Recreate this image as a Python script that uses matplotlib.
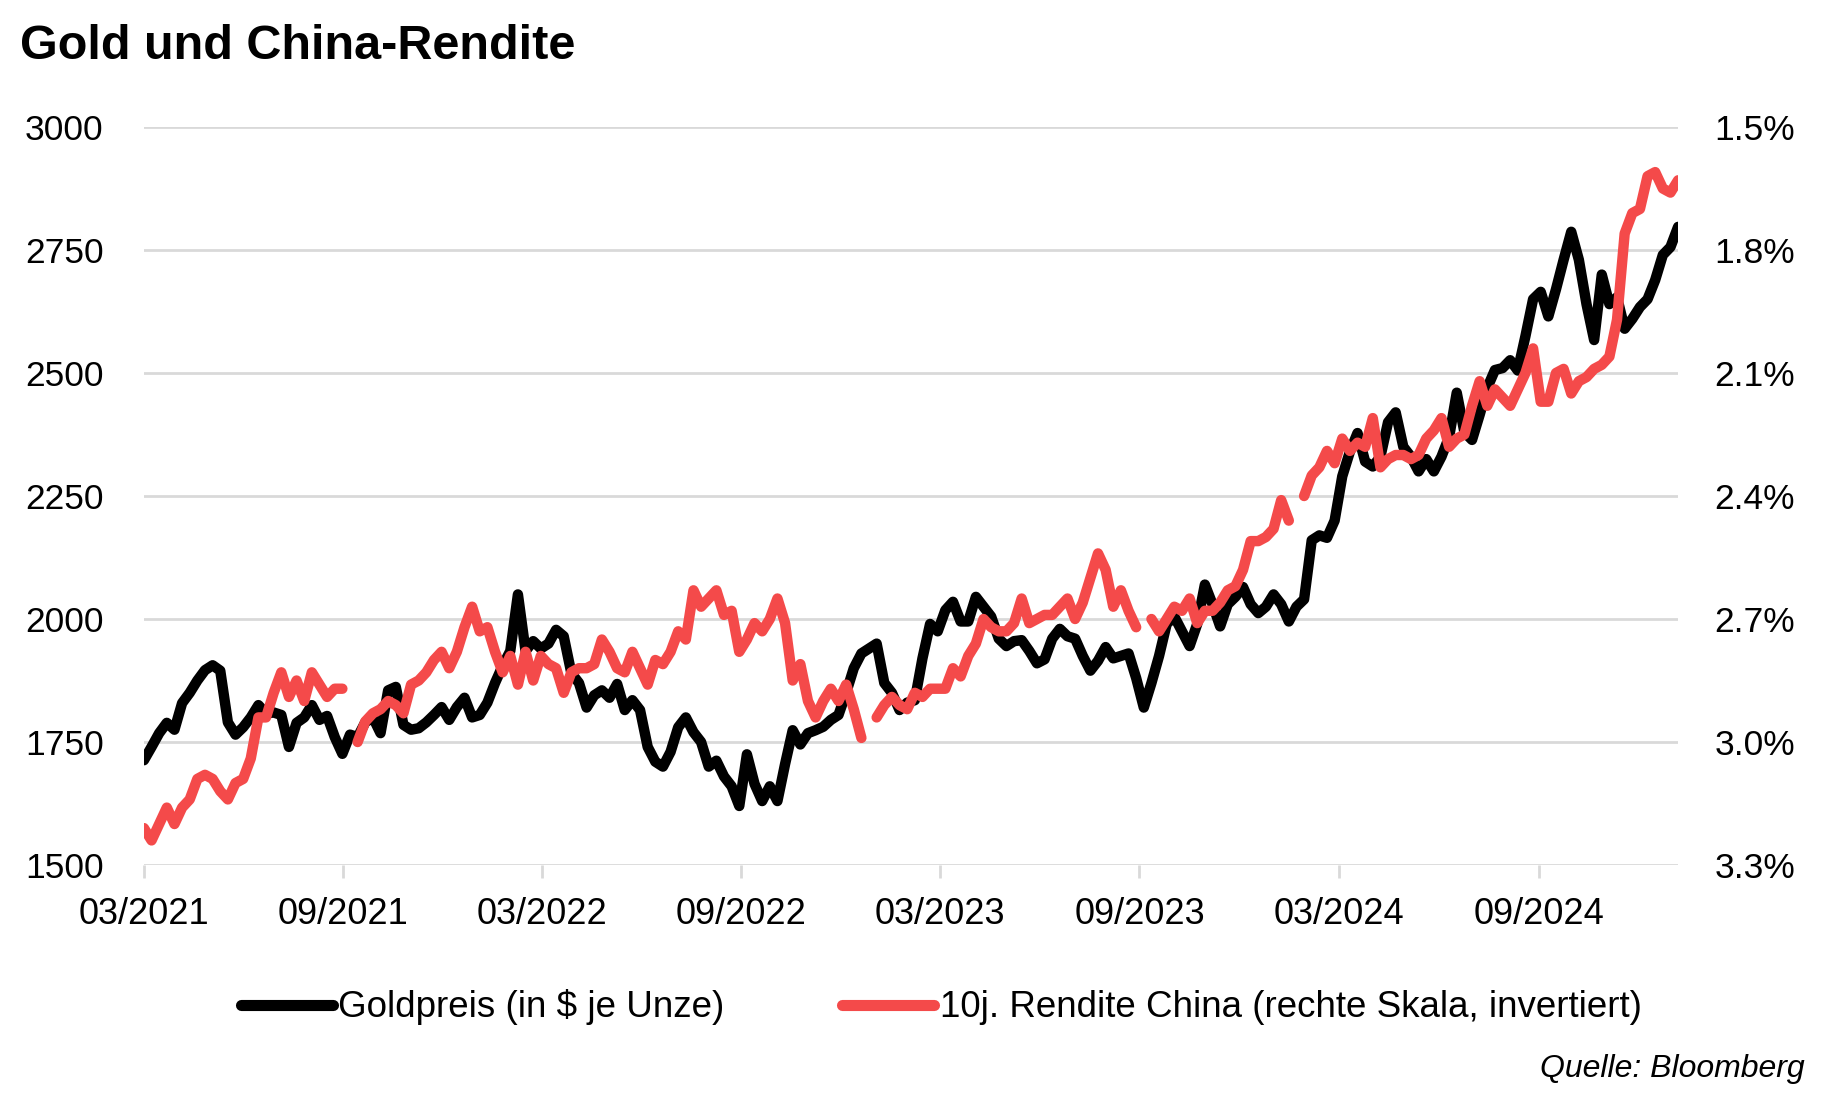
import numpy as np
import pandas as pd
import matplotlib
matplotlib.use("Agg")
import matplotlib.pyplot as plt
import matplotlib.dates as mdates
from matplotlib.ticker import FixedLocator, FuncFormatter

plt.rcParams['font.family'] = ['Liberation Sans', 'DejaVu Sans']

# weekly closes (start 31.03.2021)
gold = [
    1713, 1740, 1768, 1789, 1775, 1829, 1850, 1875, 1896, 1906,
    1895, 1790, 1765, 1780, 1800, 1825, 1808, 1810, 1805, 1740,
    1789, 1800, 1825, 1795, 1803, 1760, 1726, 1765, 1760, 1790,
    1800, 1768, 1855, 1862, 1785, 1775, 1778, 1790, 1805, 1821,
    1795, 1821, 1840, 1800, 1805, 1830, 1870, 1905, 1935, 2050,
    1935, 1955, 1940, 1950, 1978, 1965, 1890, 1870, 1820, 1845,
    1855, 1840, 1868, 1815, 1835, 1815, 1740, 1710, 1700, 1730,
    1780, 1800, 1770, 1750, 1700, 1712, 1680, 1660, 1620, 1725,
    1665, 1630, 1660, 1630, 1705, 1774, 1745, 1768, 1774, 1781,
    1795, 1805, 1850, 1900, 1930, 1940, 1950, 1870, 1850, 1815,
    1830, 1835, 1920, 1990, 1975, 2018, 2035, 1995, 1995, 2045,
    2025, 2005, 1960, 1945, 1955, 1957, 1935, 1910, 1918, 1960,
    1980, 1965, 1960, 1925, 1895, 1915, 1943, 1920, 1925, 1930,
    1880, 1820, 1870, 1925, 1990, 2005, 1975, 1945, 1990, 2070,
    2030, 1985, 2030, 2045, 2065, 2030, 2012, 2025, 2050, 2030,
    1995, 2025, 2040, 2160, 2170, 2165, 2200, 2290, 2340, 2378,
    2320, 2310, 2330, 2400, 2420, 2350, 2330, 2300, 2325, 2300,
    2330, 2370, 2460, 2380, 2364, 2415, 2470, 2506, 2510, 2526,
    2505, 2575, 2650, 2665, 2615, 2670, 2730, 2787, 2730, 2640,
    2567, 2700, 2640, 2654, 2590, 2610, 2634, 2650, 2689, 2740,
    2756, 2797,
]

yield_cn = [
    3.21, 3.24, 3.20, 3.16, 3.20, 3.16, 3.14, 3.09, 3.08, 3.09,
    3.12, 3.14, 3.10, 3.09, 3.04, 2.94, 2.94, 2.88, 2.83, 2.89,
    2.85, 2.90, 2.83, 2.86, 2.89, 2.87, 2.87, np.nan, 3.00, 2.95,
    2.93, 2.92, 2.90, 2.91, 2.93, 2.86, 2.85, 2.83, 2.80, 2.78,
    2.82, 2.78, 2.72, 2.67, 2.73, 2.72, 2.78, 2.83, 2.79, 2.86,
    2.78, 2.85, 2.79, 2.81, 2.82, 2.88, 2.83, 2.82, 2.82, 2.81,
    2.75, 2.78, 2.82, 2.83, 2.78, 2.82, 2.86, 2.80, 2.81, 2.78,
    2.73, 2.75, 2.63, 2.67, 2.65, 2.63, 2.69, 2.68, 2.78, 2.75,
    2.71, 2.73, 2.70, 2.65, 2.71, 2.85, 2.81, 2.90, 2.94, 2.90,
    2.87, 2.90, 2.86, 2.92, 2.99, np.nan, 2.94, 2.91, 2.89, 2.91,
    2.92, 2.88, 2.89, 2.87, 2.87, 2.87, 2.82, 2.84, 2.79, 2.76,
    2.70, 2.72, 2.73, 2.73, 2.71, 2.65, 2.71, 2.70, 2.69, 2.69,
    2.67, 2.65, 2.70, 2.66, 2.60, 2.54, 2.58, 2.67, 2.63, 2.68,
    2.72, np.nan, 2.70, 2.73, 2.70, 2.67, 2.68, 2.65, 2.71, 2.68,
    2.68, 2.66, 2.63, 2.62, 2.58, 2.51, 2.51, 2.50, 2.48, 2.41,
    2.46, np.nan, 2.40, 2.35, 2.33, 2.29, 2.32, 2.26, 2.29, 2.27,
    2.28, 2.21, 2.33, 2.31, 2.30, 2.30, 2.31, 2.30, 2.26, 2.24,
    2.21, 2.28, 2.26, 2.25, 2.18, 2.12, 2.18, 2.14, 2.16, 2.18,
    2.14, 2.10, 2.04, 2.17, 2.17, 2.10, 2.09, 2.15, 2.12, 2.11,
    2.09, 2.08, 2.06, 1.97, 1.76, 1.71, 1.70, 1.62, 1.61, 1.65,
    1.66, 1.63,
]

dates = pd.date_range("2021-03-31", periods=len(gold), freq="7D")
tick_dates = pd.date_range("2021-03-31", "2024-09-30", freq="6ME")
gold_ticks = [1500, 1750, 2000, 2250, 2500, 2750, 3000]
yield_ticks = [1.5, 1.8, 2.1, 2.4, 2.7, 3.0, 3.3]

BLACK = "#000000"
RED = "#F44A4A"
GRID = "#D9D9D9"
FS = 25.5

fig = plt.figure(figsize=(18.38, 11.12), dpi=100)
ax = fig.add_axes([0.0783, 0.2221, 0.8347, 0.6637])
ax2 = ax.twinx()

ax.plot(dates, gold, color=BLACK, lw=7.5, solid_capstyle="round",
        solid_joinstyle="round", label="Goldpreis (in $ je Unze)")
ax2.plot(dates, yield_cn, color=RED, lw=7.5, solid_capstyle="round",
         solid_joinstyle="round", label="10j. Rendite China (rechte Skala, invertiert)")

ax.set_xlim(dates[0], dates[-1])
ax.set_ylim(1500, 3000)
ax.yaxis.set_major_locator(FixedLocator(gold_ticks))
ax2.set_ylim(3.3, 1.5)
ax2.yaxis.set_major_locator(FixedLocator(yield_ticks))
ax2.yaxis.set_major_formatter(FuncFormatter(lambda v, p: f"{v:.1f}%"))

ax.xaxis.set_major_locator(FixedLocator(mdates.date2num(tick_dates)))
ax.xaxis.set_major_formatter(mdates.DateFormatter("%m/%Y"))

ax.grid(axis="y", color=GRID, lw=2)
ax.set_axisbelow(True)
for a in (ax, ax2):
    for s in ("top", "left", "right", "bottom"):
        a.spines[s].set_visible(False)
ax.tick_params(axis="y", length=0, labelsize=FS, pad=29)
ax2.tick_params(axis="y", length=0, labelsize=FS, pad=26)
ax.tick_params(axis="x", length=9, width=2, color=GRID, labelsize=26, pad=14)

fig.text(0.011, 0.958, "Gold und China-Rendite", fontsize=35, fontweight="bold",
         va="center", ha="left")
fig.text(0.982, 0.039, "Quelle: Bloomberg", fontsize=23, style="italic",
         ha="right", va="center")

h1, l1 = ax.get_legend_handles_labels()
h2, l2 = ax2.get_legend_handles_labels()
leg = fig.legend(h1 + h2, l1 + l2, loc="center", bbox_to_anchor=(0.512, 0.094),
                 ncol=2, frameon=False, fontsize=26.5, handlelength=2.5,
                 handletextpad=0.15, columnspacing=3.2)
for line in leg.get_lines():
    line.set_linewidth(8)

fig.savefig("out.png", dpi=100)
